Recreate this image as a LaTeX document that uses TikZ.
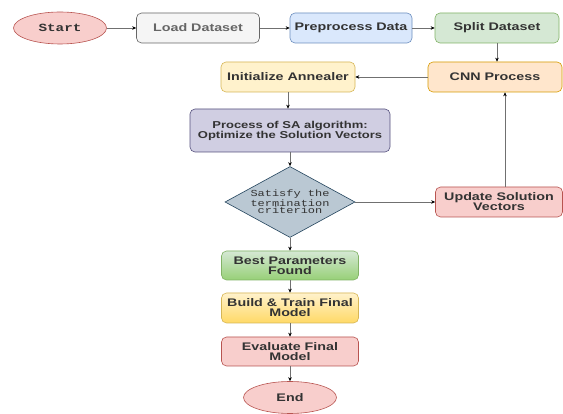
\documentclass[tikz,border=0pt]{standalone}
\usepackage{fontspec}
\usetikzlibrary{arrows.meta,shapes.geometric}

\newfontfamily\boxfont[FakeStretch=1.3]{Liberation Sans}
\newfontfamily\codefont[FakeStretch=1.3]{Liberation Mono}

\definecolor{redfill}{HTML}{F8CECC}
\definecolor{redline}{HTML}{B85450}
\definecolor{grayfill}{HTML}{F5F5F5}
\definecolor{grayline}{HTML}{666666}
\definecolor{bluefill}{HTML}{DAE8FC}
\definecolor{blueline}{HTML}{6C8EBF}
\definecolor{greenfill}{HTML}{D5E8D4}
\definecolor{greenline}{HTML}{82B366}
\definecolor{greendark}{HTML}{97D077}
\definecolor{orangefill}{HTML}{FFE6CC}
\definecolor{orangeline}{HTML}{D79B00}
\definecolor{yellowfill}{HTML}{FFF2CC}
\definecolor{yellowline}{HTML}{D6B656}
\definecolor{yellowdark}{HTML}{FFD966}
\definecolor{purplefill}{HTML}{D0CEE2}
\definecolor{purpleline}{HTML}{56517E}
\definecolor{slatefill}{HTML}{BAC8D3}
\definecolor{slateline}{HTML}{23445D}
\definecolor{textdark}{HTML}{333333}
\definecolor{arrowgray}{HTML}{707070}

\begin{document}
\begin{tikzpicture}[
        x=1pt, y=-1pt,
        box/.style={
            draw=#1line,
            fill=#1fill,
            rounded corners=5pt,
            line width=0.6pt,
            minimum height=30pt,
            align=center,
            inner sep=2pt,
            text=textdark,
            font=\boxfont\bfseries\fontsize{11}{10}\selectfont
        },
        oval/.style={
            ellipse,
            draw=redline,
            fill=redfill,
            line width=0.6pt,
            minimum width=93pt,
            minimum height=32pt,
            inner sep=0pt,
            text=textdark
        },
        decision/.style={
            diamond,
            aspect=1.83,
            draw=slateline,
            fill=slatefill,
            line width=0.6pt,
            minimum width=130pt,
            minimum height=71pt,
            inner sep=0pt,
            align=center,
            text=textdark,
            font=\codefont\fontsize{9.2}{7.7}\selectfont
        },
        line/.style={draw=arrowgray, line width=0.6pt},
        arrow/.style={line, -{Stealth[length=4pt, width=3.5pt, black]}}
    ]
        \useasboundingbox (0,0) rectangle (563,414);
        \fill[white] (0,0) rectangle (563,414);

        \node[oval, font=\codefont\bfseries\fontsize{11}{12}\selectfont] (start) at (60,28) {Start};
        \node[box=gray, text=grayline, minimum width=123pt] (load) at (198,28) {Load Dataset};
        \node[box=blue, minimum width=122pt] (prep) at (351,28) {Preprocess Data};
        \node[box=green, minimum width=124pt] (split) at (497,28) {Split Dataset};

        \node[box=orange, minimum width=134pt] (cnn) at (495,77) {CNN Process};
        \node[box=yellow, minimum width=134pt] (init) at (288,77) {Initialize Annealer};

        \node[box=purple, minimum width=200pt, minimum height=43pt,
            font=\boxfont\bfseries\fontsize{10}{10}\selectfont] (sa) at (290,130.5)
            {Process of SA algorithm:\\Optimize the Solution Vectors};
        \node[decision] (check) at (290,202) {Satisfy the\\termination\\criterion};
        \node[box=red, minimum width=127pt] (update) at (499,202) {Update Solution\\Vectors};

        \node[box=green, top color=greenfill, bottom color=greendark,
            minimum width=137pt, minimum height=29pt] (best) at (290,265.5) {Best Parameters\\Found};
        \node[box=yellow, top color=yellowfill, bottom color=yellowdark,
            minimum width=137pt] (build) at (290,308) {Build \& Train Final\\Model};
        \node[box=red, minimum width=137pt, minimum height=29pt] (eval) at (290,351.5) {Evaluate Final\\Model};
        \node[oval, font=\boxfont\bfseries\fontsize{11}{12}\selectfont] (finish) at (290,397.5) {End};

        \coordinate (backx) at (505,0);

        \draw[arrow] (start) -- (load);
        \draw[arrow] (load) -- (prep);
        \draw[arrow] (prep) -- (split);
        \draw[arrow] (split.south) -- (split.south |- cnn.north);
        \draw[arrow] (cnn) -- (init);
        \draw[arrow] (init.south) -- (init.south |- sa.north);
        \draw[arrow] (sa) -- (check);
        \draw[arrow] (check) -- (update);
        \draw[arrow] (update.north -| backx) -- (cnn.south -| backx);
        \draw[arrow] (check) -- (best);
        \draw[arrow] (best) -- (build);
        \draw[arrow] (build) -- (eval);
        \draw[arrow] (eval) -- (finish);
    \end{tikzpicture}
\end{document}
